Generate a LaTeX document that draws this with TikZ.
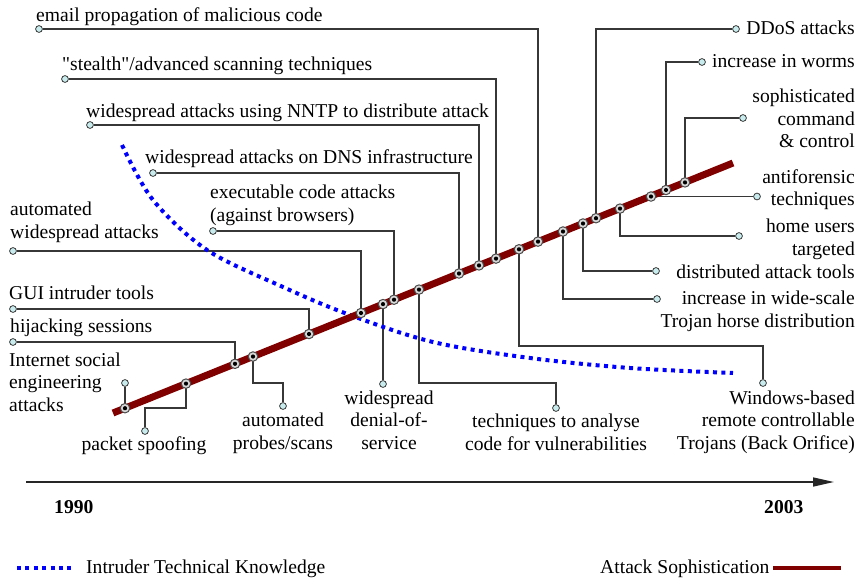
\documentclass[tikz,border=0pt]{standalone}
\usepackage{fontspec}
\setmainfont{Liberation Serif}
\usetikzlibrary{arrows.meta}
\definecolor{sophred}{RGB}{128,0,0}
\definecolor{knowblue}{RGB}{0,0,255}
\definecolor{tipfill}{RGB}{200,236,238}
\definecolor{linkgray}{RGB}{55,55,55}
% straight double quote, set as a glyph so the TeX ligature mapping leaves it alone
\newcommand\straightdq{\XeTeXglyph\XeTeXcharglyph"22\relax}

\begin{document}
\begin{tikzpicture}[x=1pt,y=-1pt,
  font=\fontsize{19.6}{22.3}\selectfont,
  lbl/.style={inner sep=0pt, anchor=base west, align=left},
  lblr/.style={inner sep=0pt, anchor=base east, align=right},
  lblc/.style={inner sep=0pt, anchor=base, align=center},
  year/.style={inner sep=0pt, anchor=base west, font=\fontsize{19.6}{22.3}\selectfont\bfseries},
  link/.style={draw=linkgray, line width=1.4pt},
  tip/.style={circle, draw=linkgray, fill=tipfill, line width=0.8pt,
    minimum size=6.8pt, inner sep=0pt},
  event/.style={circle, draw=gray!60!black, fill=gray!30, line width=1pt,
    minimum size=9.5pt, inner sep=0pt,
    path picture={\fill[black] (path picture bounding box.center) circle (2.1pt);}},
  trend/.style={draw=sophred, line width=7pt},
  knowledge/.style={draw=knowblue, line width=4pt, dash pattern=on 4pt off 4.4pt},
  axisline/.style={draw=black!85, line width=1.6pt, -{Triangle[length=21pt,width=9pt]}},
]
\useasboundingbox (0,0) rectangle (860,579);

% ---- event positions along the sophistication trend line
\coordinate (A) at (113,413);
\coordinate (B) at (733,163);
\coordinate (p1)  at (125,408.2);
\coordinate (p2)  at (186,383.6);
\coordinate (p3)  at (235,363.8);
\coordinate (p4)  at (253,356.5);
\coordinate (p5)  at (309,334.0);
\coordinate (p6)  at (361,313.0);
\coordinate (p7)  at (383,304.1);
\coordinate (p8)  at (394,299.7);
\coordinate (p9)  at (419,289.6);
\coordinate (p10) at (459,273.5);
\coordinate (p11) at (479,265.4);
\coordinate (p12) at (496,258.6);
\coordinate (p13) at (519,249.3);
\coordinate (p14) at (538,241.6);
\coordinate (p15) at (563,231.5);
\coordinate (p16) at (583,223.5);
\coordinate (p17) at (596,218.2);
\coordinate (p18) at (620,208.6);
\coordinate (p19) at (651,196.5);
\coordinate (p20) at (666,190.0);
\coordinate (p21) at (685,182.4);

% ---- bends of the stepped leaders
\coordinate (b2)  at (145,408);
\coordinate (b4)  at (283,383);
\coordinate (b9)  at (556,383);
\coordinate (b13) at (763,346);

% ---- leader end points
\node[tip] (e1)  at (125,383) {};
\node[tip] (e2)  at (145,431) {};
\node[tip] (e3)  at (13,342) {};
\node[tip] (e4)  at (283,406) {};
\node[tip] (e5)  at (13,309) {};
\node[tip] (e6)  at (13,251) {};
\node[tip] (e7)  at (383,384) {};
\node[tip] (e8)  at (213,231) {};
\node[tip] (e9)  at (556,408) {};
\node[tip] (e10) at (153,173) {};
\node[tip] (e11) at (90,125) {};
\node[tip] (e12) at (65,79) {};
\node[tip] (e13) at (763,383) {};
\node[tip] (e14) at (39,29) {};
\node[tip] (e15) at (657,299) {};
\node[tip] (e16) at (656,271) {};
\node[tip] (e17) at (736,29) {};
\node[tip] (e18) at (739,236) {};
\node[tip] (e19) at (757,196.5) {};
\node[tip] (e20) at (702,62) {};
\node[tip] (e21) at (743,118) {};

% ---- leaders
\draw[link] (p1) -- (e1);
\draw[link] (p2) |- (b2) -- (e2);
\draw[link] (p3) |- (e3);
\draw[link] (p4) |- (b4) -- (e4);
\draw[link] (p5) |- (e5);
\draw[link] (p6) |- (e6);
\draw[link] (p7) -- (e7);
\draw[link] (p8) |- (e8);
\draw[link] (p9) |- (b9) -- (e9);
\draw[link] (p10) |- (e10);
\draw[link] (p11) |- (e11);
\draw[link] (p12) |- (e12);
\draw[link] (p13) |- (b13) -- (e13);
\draw[link] (p14) |- (e14);
\draw[link] (p15) |- (e15);
\draw[link] (p16) |- (e16);
\draw[link] (p17) |- (e17);
\draw[link] (p18) |- (e18);
\draw[link] (p19) -- (e19);
\draw[link] (p20) |- (e20);
\draw[link] (p21) |- (e21);

% ---- labels (a multi-line label sits on the baseline of its last line)
\node[lbl]  (t14) at (36,21.5) {email propagation of malicious code};
\node[lbl]  (t12) at (62,70) {\straightdq stealth\straightdq/advanced scanning techniques};
\node[lbl]  (t11) at (86,117) {widespread attacks using NNTP to distribute attack};
\node[lbl]  (t10) at (145,163) {widespread attacks on DNS infrastructure};
\node[lbl]  (t8)  at (210,221) {executable code attacks\\(against browsers)};
\node[lbl]  (t6)  at (10,238) {automated\\widespread attacks};
\node[lbl]  (t5)  at (9,299) {GUI intruder tools};
\node[lbl]  (t3)  at (10,332) {hijacking sessions};
\node[lbl]  (t1)  at (9,411) {Internet social\\engineering\\attacks};
\node[lblc] (t2)  at (144,450) {packet spoofing};
\node[lblc] (t4)  at (283,449) {automated\\probes/scans};
\node[lblc] (t7)  at (389,449) {widespread\\denial-of-\\service};
\node[lblc] (t9)  at (556,450) {techniques to analyse\\code for vulnerabilities};
\node[lblr] (t13) at (855,449) {Windows-based\\remote controllable\\Trojans (Back Orifice)};
\node[lblr] (t15) at (855,327) {increase in wide-scale\\Trojan horse distribution};
\node[lblr] (t16) at (855,278) {distributed attack tools};
\node[lblr] (t18) at (855,255) {home users\\targeted};
\node[lblr] (t19) at (855,205.5) {antiforensic\\techniques};
\node[lblr] (t21) at (855,147.5) {sophisticated\\command\\\& control};
\node[lblr] (t20) at (855,67.5) {increase in worms};
\node[lblr] (t17) at (855,34.5) {DDoS attacks};

% ---- intruder technical knowledge curve
\draw[knowledge] plot[smooth, tension=0.55] coordinates
  {(122,145) (153,200) (207,250) (283,287) (350,315) (433,342) (530,358) (630,368) (733,373)};

% ---- attack sophistication trend
\draw[trend] (A) -- (B);
\foreach \i in {1,...,21} { \node[event] (d\i) at (p\i) {}; }

% ---- time axis
\coordinate (ax1) at (26,482);
\coordinate (ax2) at (834,482);
\draw[axisline] (ax1) -- (ax2);
\node[year] (y1) at (54,513) {1990};
\node[year] (y2) at (764,513) {2003};

% ---- legend
\coordinate (kl1) at (17,568);
\coordinate (kl2) at (75,568);
\draw[knowledge] (kl1) -- (kl2);
\node[lbl] (lk) at (86,573) {Intruder Technical Knowledge};
\node[lbl] (ls) at (600,573) {Attack Sophistication};
\coordinate (sl1) at (773,568);
\coordinate (sl2) at (841,568);
\draw[draw=sophred, line width=4.6pt] (sl1) -- (sl2);
\end{tikzpicture}
\end{document}
